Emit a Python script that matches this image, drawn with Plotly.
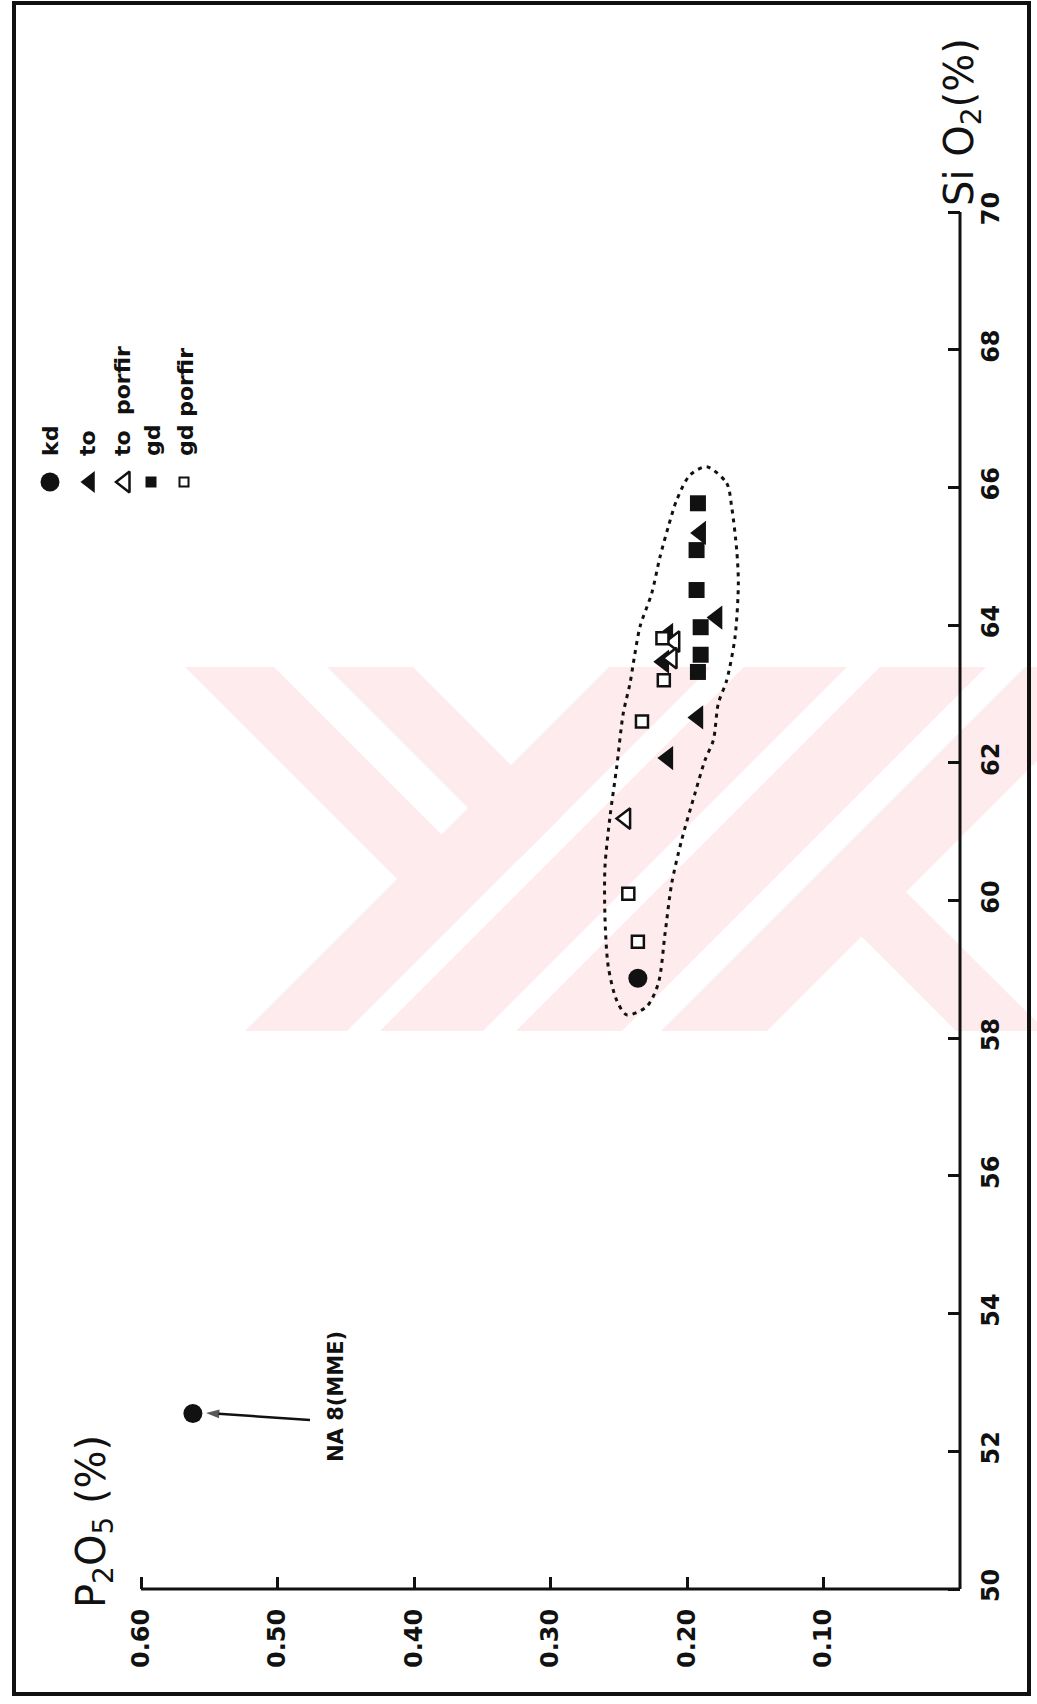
import plotly.graph_objects as go

W, H = 1037, 1704

# Axis ranges: P2O5 runs right-to-left along the bottom, SiO2 runs upward on the right.
# The ranges are wide enough that the whole page acts as the plotting surface.
X_RANGE = [0.7033, -0.0564]
Y_RANGE = [48.33, 73.08]

# ---- data (SiO2 %, P2O5 %) ----
kd_sio2 = [58.87, 52.55]
kd_p2o5 = [0.236, 0.562]

to_sio2 = [65.34, 64.11, 63.86, 63.47, 62.66, 62.07]
to_p2o5 = [0.190, 0.178, 0.214, 0.217, 0.192, 0.214]

to_porfir_sio2 = [63.76, 63.52, 61.19]
to_porfir_p2o5 = [0.209, 0.211, 0.245]

gd_sio2 = [65.77, 65.09, 64.51, 63.97, 63.57, 63.32]
gd_p2o5 = [0.192, 0.193, 0.193, 0.190, 0.190, 0.192]

gd_porfir_sio2 = [63.81, 63.20, 62.60, 60.10, 59.40]
gd_porfir_p2o5 = [0.218, 0.217, 0.233, 0.243, 0.236]

# dotted envelope around the granitoid field
field_sio2 = [66.30, 66.06, 65.72, 65.09, 64.61, 63.83, 63.20, 62.86, 62.33, 62.04,
              61.56, 60.88, 60.25, 59.52, 58.80, 58.46, 58.34, 58.55, 59.04, 59.76,
              60.49, 61.22, 61.94, 62.72, 63.15, 63.45, 63.98, 64.46, 64.99, 65.43,
              65.82, 66.18]
field_p2o5 = [0.1856, 0.1709, 0.1673, 0.1636, 0.1624, 0.1648, 0.1709, 0.1771, 0.1807, 0.1868,
              0.1941, 0.2039, 0.2112, 0.2161, 0.2210, 0.2295, 0.2442, 0.2515, 0.2577, 0.2601,
              0.2601, 0.2564, 0.2515, 0.2467, 0.2418, 0.2393, 0.2344, 0.2259, 0.2198, 0.2137,
              0.2075, 0.1978]

p2o5_ticks = [0.60, 0.50, 0.40, 0.30, 0.20, 0.10]
p2o5_ticktext = ["0.60", "0.50", "0.40", "0.30", "0.20", "0.10"]
sio2_ticks = [50, 52, 54, 56, 58, 60, 62, 64, 66, 68, 70]

legend_names = ["kd", "to", "to  porfir", "gd", "gd porfir"]

INK = "#111111"
PINK = "#fdebee"
FONT = "DejaVu Sans"


def px_to_p2o5(px):
    return X_RANGE[0] + (X_RANGE[1] - X_RANGE[0]) * px / W


def px_to_sio2(py):
    return Y_RANGE[1] - (Y_RANGE[1] - Y_RANGE[0]) * py / H


def paper_x(px):
    return px / W


def paper_y(py):
    return 1 - py / H


def paper_path(points):
    parts = [f"{paper_x(x):.5f},{paper_y(y):.5f}" for x, y in points]
    return "M" + " L".join(parts) + " Z"


fig = go.Figure()

# envelope
fig.add_trace(go.Scatter(
    x=field_p2o5 + field_p2o5[:1], y=field_sio2 + field_sio2[:1],
    mode="lines", line=dict(color=INK, width=3, dash="4px,5px", shape="spline", smoothing=0.8),
    hoverinfo="skip", showlegend=False))

# filled symbols
fig.add_trace(go.Scatter(
    x=to_p2o5, y=to_sio2, mode="markers", name="to",
    marker=dict(symbol="triangle-left", size=21, color=INK, line=dict(width=0))))
fig.add_trace(go.Scatter(
    x=gd_p2o5, y=gd_sio2, mode="markers", name="gd",
    marker=dict(symbol="square", size=16, color=INK, line=dict(width=0))))
fig.add_trace(go.Scatter(
    x=kd_p2o5, y=kd_sio2, mode="markers", name="kd",
    marker=dict(symbol="circle", size=19, color=INK, line=dict(width=0))))

# open symbols (white inside, drawn on top)
fig.add_trace(go.Scatter(
    x=to_porfir_p2o5, y=to_porfir_sio2, mode="markers", name="to porfir",
    marker=dict(symbol="triangle-left", size=18, color="white", line=dict(width=2.5, color=INK))))
fig.add_trace(go.Scatter(
    x=gd_porfir_p2o5, y=gd_porfir_sio2, mode="markers", name="gd porfir",
    marker=dict(symbol="square", size=12, color="white", line=dict(width=2.5, color=INK))))

# pointer from the enclave label to its sample
fig.add_trace(go.Scatter(
    x=[px_to_p2o5(310), px_to_p2o5(206)], y=[px_to_sio2(1420), px_to_sio2(1413)],
    mode="lines+markers", hoverinfo="skip", showlegend=False,
    line=dict(color=INK, width=2.5),
    marker=dict(symbol=["line-ns", "arrow"], size=[0, 14], angleref="previous",
                color=INK, line=dict(width=0))))

# legend key, drawn in the upper-left corner
leg_px = [50, 90, 125, 151, 184]
leg_py = 482
leg_symbols = ["circle", "triangle-left", "triangle-left", "square", "square"]
leg_sizes = [19, 19, 18, 11, 9]
leg_fill = [INK, INK, "white", INK, "white"]
leg_lw = [0, 0, 2.5, 0, 2]
for lx, sym, sz, fc, lw in zip(leg_px, leg_symbols, leg_sizes, leg_fill, leg_lw):
    fig.add_trace(go.Scatter(
        x=[px_to_p2o5(lx)], y=[px_to_sio2(leg_py)],
        mode="markers", hoverinfo="skip", showlegend=False,
        marker=dict(symbol=sym, size=sz, color=fc, opacity=1,
                    line=dict(width=lw, color=INK))))

annotations = []
leg_text_px = [50, 87, 122, 152, 185]
for name, tx in zip(legend_names, leg_text_px):
    annotations.append(dict(
        text=f"<b>{name}</b>", x=paper_x(tx), y=paper_y(458), xref="paper", yref="paper",
        xanchor="center", yanchor="bottom", textangle=-90, showarrow=False,
        font=dict(family=FONT, size=22, color=INK)))

# axis titles
annotations.append(dict(
    text="Si O<sub>2</sub>(%)", x=paper_x(962), y=paper_y(122), xref="paper", yref="paper",
    xanchor="center", yanchor="middle", textangle=-90, showarrow=False,
    font=dict(family=FONT, size=40, color=INK)))
annotations.append(dict(
    text="P<sub>2</sub>O<sub>5</sub> (%)", x=paper_x(94), y=paper_y(1522), xref="paper", yref="paper",
    xanchor="center", yanchor="middle", textangle=-90, showarrow=False,
    font=dict(family=FONT, size=40, color=INK)))

# enclave sample label
annotations.append(dict(
    text="<b>NA 8(MME)</b>", x=paper_x(336), y=paper_y(1397), xref="paper", yref="paper",
    xanchor="center", yanchor="middle", textangle=-90, showarrow=False,
    font=dict(family=FONT, size=21, color=INK)))

# pale background emblem made of diagonal bands
emblem = [
    [(245, 1031), (347, 1031), (711, 667), (609, 667)],
    [(380, 1031), (483, 1031), (847, 667), (744, 667)],
    [(516, 1031), (622, 1031), (986, 667), (880, 667)],
    [(661, 1031), (767, 1031), (1131, 667), (1025, 667)],
    [(185, 667), (274, 667), (492, 885), (448, 930)],
    [(327, 667), (413, 667), (562, 816), (519, 859)],
    [(906, 892), (1046, 1031), (956, 1031), (860, 935)],
]
shapes = [dict(type="path", xref="paper", yref="paper", path=paper_path(poly),
               fillcolor=PINK, line=dict(width=0), layer="below") for poly in emblem]

shapes += [
    # page frame
    dict(type="rect", xref="paper", yref="paper",
         x0=paper_x(14), x1=paper_x(1029), y0=paper_y(1694), y1=paper_y(3),
         line=dict(color=INK, width=4), layer="below"),
    # axis lines
    dict(type="line", xref="x", yref="y", x0=0.60, x1=0.0, y0=50, y1=50,
         line=dict(color=INK, width=3)),
    dict(type="line", xref="x", yref="y", x0=0.0, x1=0.0, y0=50, y1=70,
         line=dict(color=INK, width=3)),
]

tickfont = dict(family=FONT, size=24, color=INK, weight="bold")

fig.update_layout(
    width=W, height=H, margin=dict(l=0, r=0, t=0, b=0),
    paper_bgcolor="white", plot_bgcolor="white", showlegend=False,
    annotations=annotations, shapes=shapes,
    xaxis=dict(range=X_RANGE, anchor="free", position=paper_y(1589),
               tickvals=p2o5_ticks, ticktext=p2o5_ticktext, ticks="inside",
               ticklen=12, tickwidth=2.5, tickcolor=INK, tickangle=-90,
               ticklabelstandoff=14, tickfont=tickfont,
               showline=False, showgrid=False, zeroline=False),
    yaxis=dict(range=Y_RANGE, anchor="free", side="right", position=paper_x(960),
               tickvals=sio2_ticks, ticks="inside", ticklen=12, tickwidth=2.5,
               tickcolor=INK, tickangle=-90, ticklabelstandoff=14, tickfont=tickfont,
               showline=False, showgrid=False, zeroline=False),
)

fig.write_html("out.html")
